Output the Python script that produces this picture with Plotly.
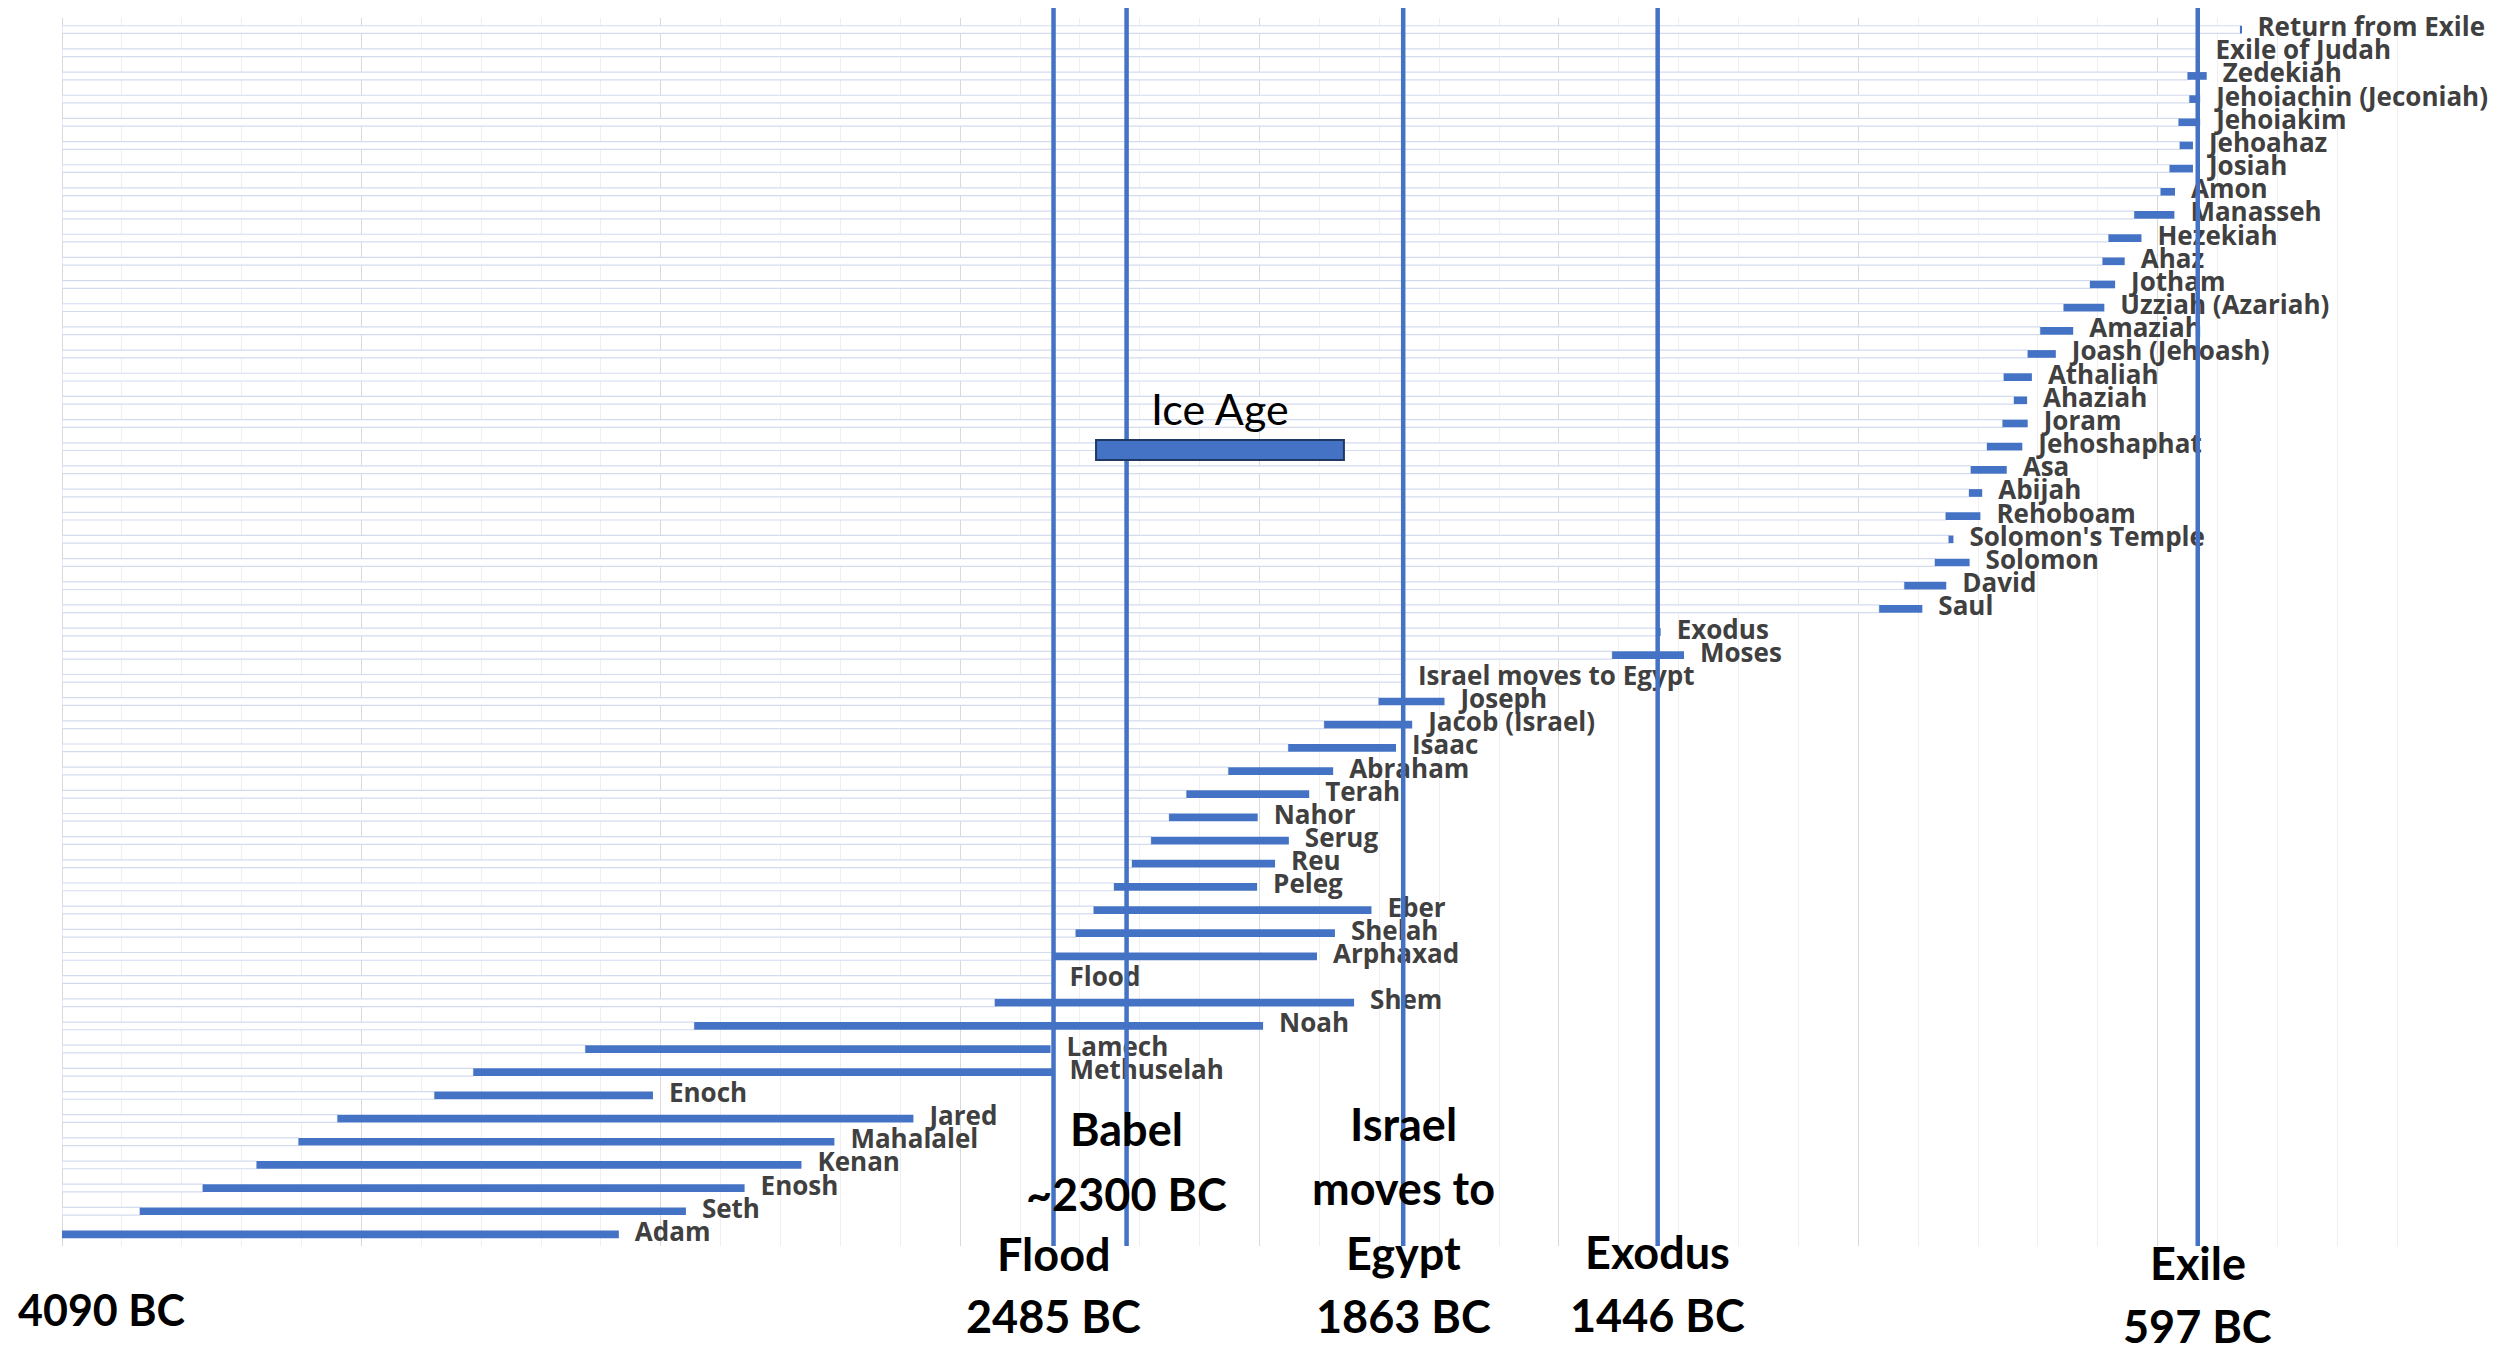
import plotly.graph_objects as go

# ---------------- data (years after creation, AM) ----------------
names = ["Adam", "Seth", "Enosh", "Kenan", "Mahalalel", "Jared", "Enoch", "Methuselah",
         "Lamech", "Noah", "Shem", "Flood", "Arphaxad", "Shelah", "Eber", "Peleg", "Reu",
         "Serug", "Nahor", "Terah", "Abraham", "Isaac", "Jacob (Israel)", "Joseph",
         "Israel moves to Egypt", "Moses", "Exodus", "Saul", "David", "Solomon",
         "Solomon's Temple", "Rehoboam", "Abijah", "Asa", "Jehoshaphat", "Joram", "Ahaziah",
         "Athaliah", "Joash (Jehoash)", "Amaziah", "Uzziah (Azariah)", "Jotham", "Ahaz",
         "Hezekiah", "Manasseh", "Amon", "Josiah", "Jehoahaz", "Jehoiakim",
         "Jehoiachin (Jeconiah)", "Zedekiah", "Exile of Judah", "Return from Exile"]

start_year = [0, 130, 235, 325, 395, 460, 622, 687, 874, 1056, 1558, 1656, 1658, 1693, 1723,
              1757, 1787, 1819, 1849, 1878, 1948, 2048, 2108, 2199, 2238, 2589, 2667, 3035,
              3077, 3128, 3151, 3146, 3185, 3188, 3215, 3241, 3260, 3243, 3283, 3304, 3343,
              3387, 3408, 3418, 3461, 3505, 3520, 3537, 3535, 3553, 3550, 3566, 3638]

end_year = [930, 1042, 1140, 1235, 1290, 1422, 987, 1656, 1651, 2006, 2158, 1656, 2096, 2126,
            2187, 1996, 2026, 2049, 1997, 2083, 2123, 2228, 2255, 2309, 2238, 2709, 2670, 3107,
            3147, 3186, 3159, 3204, 3207, 3248, 3274, 3283, 3282, 3290, 3330, 3359, 3411,
            3429, 3445, 3473, 3528, 3529, 3559, 3559, 3571, 3571, 3582, 3570, 3640]

# event marker lines
event_years = [1656, 1778, 2240, 2665, 3567]
event_labels = [["Flood", "2485 BC"], ["Babel", "~2300 BC"],
                ["Israel", "moves to", "Egypt", "1863 BC"], ["Exodus", "1446 BC"],
                ["Exile", "597 BC"]]
creation_label = "4090 BC"

ice_age_start = 1727
ice_age_end = 2141
ice_age_label = "Ice Age"

x_range = [0, 4000]

# ---------------- figure ----------------
BLUE = "#4472C4"
W, H = 2509, 1347
ML, MR, MT, MB = 62, 52, 18, 101
plot_h = H - MT - MB


def py(pix):
    """pixel row (from top of page) -> paper y"""
    return (H - MB - pix) / plot_h


durations = [e - s for s, e in zip(start_year, end_year)]

fig = go.Figure()
fig.add_trace(go.Bar(
    y=names, x=start_year, orientation="h",
    marker=dict(color="white", line=dict(color="#D3DCEF", width=1.2)),
    hoverinfo="skip", showlegend=False))
fig.add_trace(go.Bar(
    y=names, x=durations, base=start_year, orientation="h",
    marker=dict(color=BLUE, line=dict(width=0)),
    showlegend=False))
fig.add_trace(go.Scatter(
    y=names, x=end_year, mode="markers+text", text=names,
    textposition="middle right",
    marker=dict(size=24, color="rgba(0,0,0,0)"),
    textfont=dict(family="Open Sans", size=26, color="#404040", weight="bold"),
    cliponaxis=False, hoverinfo="skip", showlegend=False))

shapes = []
for yr in event_years:
    shapes.append(dict(type="line", xref="x", yref="paper", x0=yr, x1=yr,
                       y0=0, y1=py(8), line=dict(color=BLUE, width=4.5), layer="above"))
shapes.append(dict(type="rect", xref="x", yref="paper", x0=ice_age_start, x1=ice_age_end,
                   y0=py(460), y1=py(440), fillcolor=BLUE,
                   line=dict(color="#1F3864", width=2), layer="above"))

annotations = []
label_rows = {
    0: [1254, 1316],
    1: [1129, 1194],
    2: [1124, 1188, 1253, 1316],
    3: [1252, 1315],
    4: [1263, 1326],
}
for i, (yr, lines) in enumerate(zip(event_years, event_labels)):
    for txt, row in zip(lines, label_rows[i]):
        annotations.append(dict(x=yr, y=py(row), xref="x", yref="paper", text="<b>" + txt + "</b>",
                                showarrow=False, xanchor="center", yanchor="middle",
                                font=dict(family="Lato", size=45, color="black")))
annotations.append(dict(x=0, y=py(1309), xref="x", yref="paper", text="<b>" + creation_label + "</b>",
                        showarrow=False, xanchor="left", yanchor="middle", xshift=-46,
                        font=dict(family="Lato", size=43, color="black")))
annotations.append(dict(x=(ice_age_start + ice_age_end) / 2, y=py(408), xref="x", yref="paper",
                        text=ice_age_label, showarrow=False, xanchor="center", yanchor="middle",
                        font=dict(family="Lato", size=43, color="black")))

fig.update_layout(
    width=W, height=H, autosize=False,
    margin=dict(l=ML, r=MR, t=MT, b=MB, pad=0),
    paper_bgcolor="white", plot_bgcolor="white",
    barmode="overlay", bargap=0.667,
    shapes=shapes, annotations=annotations,
    xaxis=dict(range=x_range, tick0=0, dtick=500, showgrid=True, gridcolor="#D9D9D9",
               gridwidth=1.3, zeroline=True, zerolinecolor="#D9D9D9", zerolinewidth=1.3,
               showticklabels=False, ticks="", showline=False,
               minor=dict(dtick=100, showgrid=True, gridcolor="#EFEFEF", gridwidth=1.3)),
    yaxis=dict(categoryorder="array", categoryarray=names, range=[-0.5, len(names) - 0.5],
               autorange=False, showgrid=False, zeroline=False,
               showticklabels=False, ticks="", showline=False),
)

fig.write_html("out.html", config={"displayModeBar": False},
               post_script="document.body.style.margin='0';")
